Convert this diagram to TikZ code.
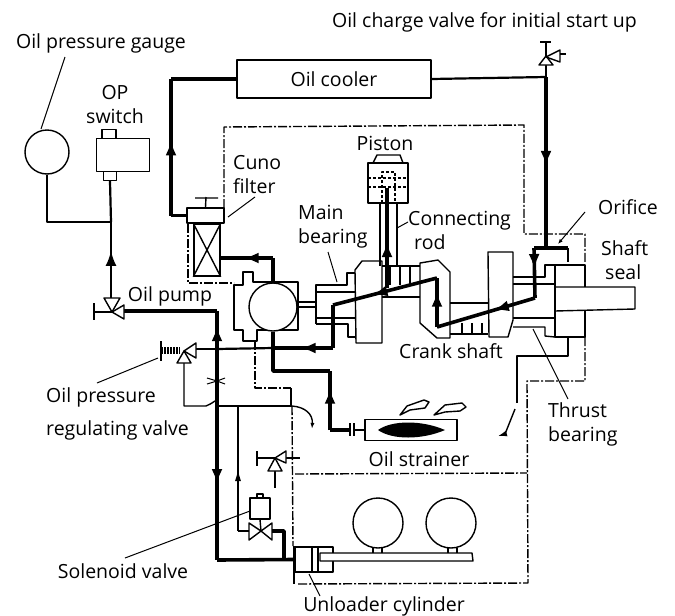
\documentclass[tikz,border=0pt]{standalone}
\usepackage{fontspec}
\setmainfont{Open Sans}
\usetikzlibrary{shapes,arrows.meta,positioning,decorations.markings}

\begin{document}
\begin{tikzpicture}[x=1pt, y=-1pt, line join=round,
    label/.style={inner sep=0pt, font=\fontsize{19.5}{24}\selectfont},
    part/.style={rectangle, draw, fill=white, line width=1.4pt, inner sep=0pt},
    oilpipe/.style={line width=3.6pt},
    midpipe/.style={line width=2.2pt},
    thinpipe/.style={line width=1.4pt},
    outline/.style={line width=1.4pt},
    casing/.style={line width=1.4pt, dash pattern=on 9pt off 2pt on 2pt off 2pt},
    leader/.style={line width=1pt},
    flowmark/.style={postaction={decorate}, decoration={markings,
        mark=at position #1 with {\arrow{Latex[length=15pt,width=11pt]}}}},
    flowtick/.style={postaction={decorate}, decoration={markings,
        mark=at position #1 with {\arrow{Latex[length=12pt,width=6pt]}}}}
]
\useasboundingbox (0,0) rectangle (675,616);

% Casing
\draw[casing] (188,224) -- (188,283) -- (234,283);
\draw[casing] (224,208) -- (224,127) -- (524,125) -- (524,234) -- (585,234) -- (585,262);
\draw[casing] (585,337) -- (585,381) -- (527,381) -- (528,583) -- (297,584);
\draw[casing] (255,341) -- (255,388) -- (291,388);
\draw[casing] (292,406) -- (293,546);
\draw[casing] (295,474) -- (527,473);

% Gauge and switch
\node[part, circle, minimum size=44pt] (gauge) at (47,152) {};
\node[part, minimum width=53pt, minimum height=33pt] (opswitch) at (123,155) {};
\node[part, minimum width=14pt, minimum height=9pt] (switchtop) at (109,134) {};
\node[part, minimum width=13pt, minimum height=9pt] (switchfoot) at (110,176) {};

% Oil cooler and filter
\node[part, minimum width=194pt, minimum height=38pt] (cooler) at (334,79) {};
\node[part, minimum width=37pt, minimum height=15pt] (filtercap) at (205.5,215.5) {};
\node[part, minimum width=26pt, minimum height=52pt] (filterbody) at (207,250) {};
\draw[outline] (filterbody.north west) -- (filterbody.south east) (filterbody.north east) -- (filterbody.south west);
\draw[outline] (filtercap.north) -- (206,197) (195,198) -- (218,198);

% Pump
\draw[outline] (234,285) -- (243,285) -- (243,272) -- (253,272) -- (253,282) -- (298,282) -- (298,330)
    -- (257,330) -- (257,341) -- (243,341) -- (243,330) -- (234,330) -- cycle;
\node[part, circle, minimum size=48pt] (pumprotor) at (273,307) {};
\draw[outline] (298,302) -- (316,302) (298,307) -- (316,307);

% Main bearing
\draw[outline] (316,324) -- (316,285) -- (347,285) -- (347,273) -- (355,273);
\draw[outline] (316,292) -- (355,292) (316,318) -- (355,318);
\draw[outline] (316,324) -- (348,324) -- (348,337) -- (355,337);

% Crank shaft
\draw[outline] (355,270) -- (362,261) -- (382,261) -- (382,343) -- (356,343) -- cycle;
\draw[outline] (420,263) -- (420,323) -- (437,338) -- (450,338) -- (450,272) -- (438,260) -- cycle;
\draw[outline] (488,252) -- (513,252) -- (513,320) -- (508,337) -- (489,337) -- cycle;
\draw[outline] (382,266) -- (420,266) (382,297) -- (420,297);
\draw[outline] (390,266) -- (390,285) (400,266) -- (400,285) (410,266) -- (410,285);
\draw[outline] (450,303) -- (488,303) (450,334) -- (488,334);
\draw[outline] (462,323) -- (462,334) (472,323) -- (472,334) (482,323) -- (482,334);

% Thrust bearing and shaft seal
\draw[outline] (513,277) -- (545,277) -- (545,265) -- (585,265) -- (585,287);
\draw[outline] (513,284) -- (555,284) (513,318) -- (555,318);
\draw[outline] (513,327) -- (545,327) -- (545,336) -- (555,337);
\draw[outline] (555,265) -- (555,337) -- (585,337) -- (585,311);
\draw[outline] (555,287) -- (635,287) -- (635,309) -- (555,311);
\draw[outline] (568,337) -- (568,356) -- (517,356) -- (517,403);

% Piston
\draw[outline] (373,163) -- (377,155) -- (400,155) -- (403,163);
\node[part, minimum width=40pt, minimum height=40pt] (piston) at (388,183) {};
\draw[thinpipe, densely dashed] (368,178) -- (408,178) (368,187) -- (408,187);
\draw[thinpipe, densely dashed] (382,203) -- (382,172) -- (395,172) -- (395,203);
\draw[outline] (380,203) -- (380,266) (397,203) -- (397,266);

% Oil strainer
\node[part, minimum width=92pt, minimum height=21pt] (strainer) at (411,430) {};
\fill (378,430) .. controls (392,420) and (422,420) .. (445,430) .. controls (422,440) and (392,440) .. (378,430) -- cycle;
\draw[outline] (400,415) -- (407,406) -- (424,400) -- (429,402) -- (425,408) -- (410,410) -- cycle;
\draw[outline] (434,415) -- (445,405) -- (462,403) -- (466,407) -- (460,411) -- (445,412) -- cycle;
\draw[outline] (350,423) -- (350,436) (354,423) -- (354,436);

% Unloader
\node[part, minimum width=38pt, minimum height=25pt] (cylinder) at (314,559.5) {};
\draw[outline] (312,547) -- (312,572) (318,547) -- (318,572);
\draw[midpipe] (294,546) -- (294,584);
\draw[outline, fill=white] (320,553) -- (472,553) -- (473,561) -- (320,561) -- cycle;
\node[part, circle, minimum size=50pt] (cylinder1) at (378,523) {};
\node[part, circle, minimum size=50pt] (cylinder2) at (451,523) {};
\draw[outline] (373,548) -- (373,553) (382,548) -- (382,553) (448,548) -- (448,553) (457,548) -- (457,553);

% Solenoid
\node[part, minimum width=20pt, minimum height=21pt] (solenoid) at (260,508.5) {};
\draw[outline] (257,498) -- (257,494) -- (263,494) -- (263,498);
\draw[outline] (solenoid.south) -- (261,531);
\draw[outline] (249,523) -- (261,531) -- (272,523) -- (272,540) -- (261,531) -- (249,540) -- cycle;

% Pipe junctions
\coordinate (gaugetee) at (111,222);
\coordinate (opvalve) at (111,298);
\coordinate (pumpvalve) at (124,311);
\coordinate (maintop) at (217,311);
\coordinate (maintee) at (217,349);
\coordinate (mainlow) at (217,560);
\coordinate (coolerout) at (171,79);
\coordinate (filtertee) at (273,258);
\coordinate (pumpjoin) at (273,348);
\coordinate (feed) at (333,348);
\coordinate (turn) at (333,305);
\coordinate (crankhigh) at (437,278);
\coordinate (cranklow) at (437,327);
\coordinate (journal) at (535,298);
\coordinate (sealtop) at (534,248);
\coordinate (chargetee) at (546,77);
\coordinate (sealtee) at (546,248);
\coordinate (orifice) at (568,248);

% Oil circuit
\draw[midpipe] (gauge.south) |- (gaugetee);
\draw[midpipe] (switchfoot.south) -- (gaugetee);
\draw[midpipe, flowmark=0.62] (opvalve) -- (gaugetee);
\draw[oilpipe] (pumpvalve) -- (maintop);
\draw[oilpipe, flowmark=0.6] (maintee) -- (maintop);
\draw[oilpipe, flowmark=0.64] (maintee) -- (mainlow);
\draw[oilpipe] (mainlow) -- (cylinder.west);
\draw[oilpipe] (cooler.west) -- (coolerout);
\draw[oilpipe, flowmark=0.55] (coolerout|-filtercap) -- (coolerout);
\draw[oilpipe] (filtercap.west) -- (coolerout|-filtercap);
\draw[oilpipe] (pumprotor.north) -- (filtertee);
\draw[oilpipe, flowmark=0.56] (filtertee) -- (filterbody.east|-filtertee);
\draw[oilpipe] (pumprotor.south) -- (pumpjoin);
\draw[midpipe] (pumpjoin) -- (maintee);
\draw[oilpipe, flowmark=0.54] (feed) -- (pumpjoin);
\draw[oilpipe] (feed) -- (turn);
\draw[oilpipe, flowmark=0.62] (crankhigh) -- (turn);
\draw[oilpipe, flowmark=0.72] (cranklow) -- (crankhigh);
\draw[oilpipe, flowmark=0.42] (journal) -- (cranklow);
\draw[oilpipe, flowmark=0.42] (sealtop) -- (journal);
\draw[oilpipe] (sealtop) -- (orifice);
\draw[midpipe] (orifice) -- (568,262);
\draw[oilpipe, flowmark=0.46] (387,288) -- (387,188);
\draw[midpipe] (cooler.east) -- (chargetee);
\draw[oilpipe, flowmark=0.52] (chargetee) -- (sealtee);
\draw[midpipe] (chargetee) -- (546,65);
\draw[oilpipe] (pumpjoin) |- (330,371);
\draw[oilpipe, flowmark=0.7] (330,430) -- (330,371);
\draw[oilpipe] (330,430) -- (350,430);
\draw[thinpipe] (354,430) -- (strainer.west);

% Control lines
\draw[thinpipe] (196,349) -- (maintee);
\draw[thinpipe] (184,363) -- (184,406) -- (206,406) .. controls (209,405) and (212,403) .. (215,401);
\draw[thinpipe] (217,406) -- (292,406);
\draw[thinpipe] (291,388) -- (291,406);
\draw[leader] (207,378) -- (217,381) -- (207,384) (225,378) -- (217,381) -- (225,384);
\draw[thinpipe, -{Latex[length=6pt,width=4pt]}] (292,406) .. controls (305,407) and (313,414) .. (312,429);
\draw[thinpipe, flowtick=0.5] (238,531) -- (238,407);
\draw[thinpipe] (238,531) -- (249,531);
\draw[oilpipe] (272,531) -- (284,531) -- (284,560);
\draw[thinpipe] (275,471) -- (275,488);
\draw[thinpipe] (286,458) -- (300,458);
\draw[outline, -{Latex[length=9pt,width=6pt]}] (515,409) -- (505,434) -- (498,436);

% Valves
\draw[outline, fill=white] (94,303) -- (94,320) (94,312) -- (112,312);
\draw[outline, fill=white] (112,312) -- (104,298) -- (120,298) -- cycle;
\draw[outline, fill=white] (112,312) -- (124,305) -- (124,319) -- cycle;
\draw[outline] (161,341) -- (161,361);
\draw[line width=7pt, dash pattern=on 2pt off 1pt] (161,350) -- (180,350);
\draw[outline, fill=white] (184,351) -- (177,363) -- (191,363) -- cycle;
\draw[outline, fill=white] (184,351) -- (196,343) -- (196,358) -- cycle;
\draw[outline] (257,451) -- (257,466) (257,458) -- (275,458);
\draw[outline, fill=white] (275,458) -- (268,471) -- (282,471) -- cycle;
\draw[outline, fill=white] (275,458) -- (286,451) -- (286,463) -- cycle;
\draw[outline] (540,42) -- (551,42) (546,42) -- (546,57);
\draw[outline, fill=white] (546,56) -- (539,65) -- (553,65) -- cycle;
\draw[outline, fill=white] (546,57) -- (560,50) -- (560,62) -- cycle;
\draw[outline] (560,54) -- (566,54);

% Leaders
\draw[leader] (65,57) -- (41,129);
\draw[leader] (228,217) -- (255,197);
\draw[leader] (328,252) -- (337,282);
\draw[leader] (408,222) -- (397,228);
\draw[leader, -{Latex[length=5pt,width=4pt]}] (585,212) -- (558,244);
\draw[leader] (533,329) -- (568,399);
\draw[leader] (158,358) -- (97,383);
\draw[leader] (250,511) -- (125,558);
\draw[leader] (309,574) -- (320,596);

% Labels
\node[label] (chargelabel) at (484.5,22) {Oil charge valve for initial start up};
\node[label] (gaugelabel) at (101,43) {Oil pressure gauge};
\node[label, align=center] (switchlabel) at (115,105) {OP\\switch};
\node[label] (coolerlabel) at (cooler) {Oil cooler};
\node[label] (pistonlabel) at (385,143) {Piston};
\node[label, align=left, anchor=west] (cunolabel) at (233,175) {Cuno\\filter};
\node[label, align=left, anchor=west] (bearinglabel) at (298,227) {Main\\bearing};
\node[label, align=left, anchor=west] (rodlabel) at (408,230) {Connecting\\\hspace{6pt}rod};
\node[label] (orificelabel) at (628,207) {Orifice};
\node[label, align=left, anchor=west] (seallabel) at (601,260) {Shaft\\\hspace{4pt}seal};
\node[label] (pumplabel) at (170,296) {Oil pump};
\node[label] (cranklabel) at (451,351) {Crank shaft};
\node[label, font=\fontsize{19.5}{33}\selectfont, align=left, anchor=west] (regulatorlabel) at (46,414) {Oil pressure\\regulating valve};
\node[label, align=left, anchor=west] (thrustlabel) at (548,424) {Thrust\\bearing};
\node[label] (strainerlabel) at (419,459) {Oil strainer};
\node[label] (solenoidlabel) at (123,571) {Solenoid valve};
\node[label] (unloaderlabel) at (384,606) {Unloader cylinder};

\end{tikzpicture}
\end{document}
